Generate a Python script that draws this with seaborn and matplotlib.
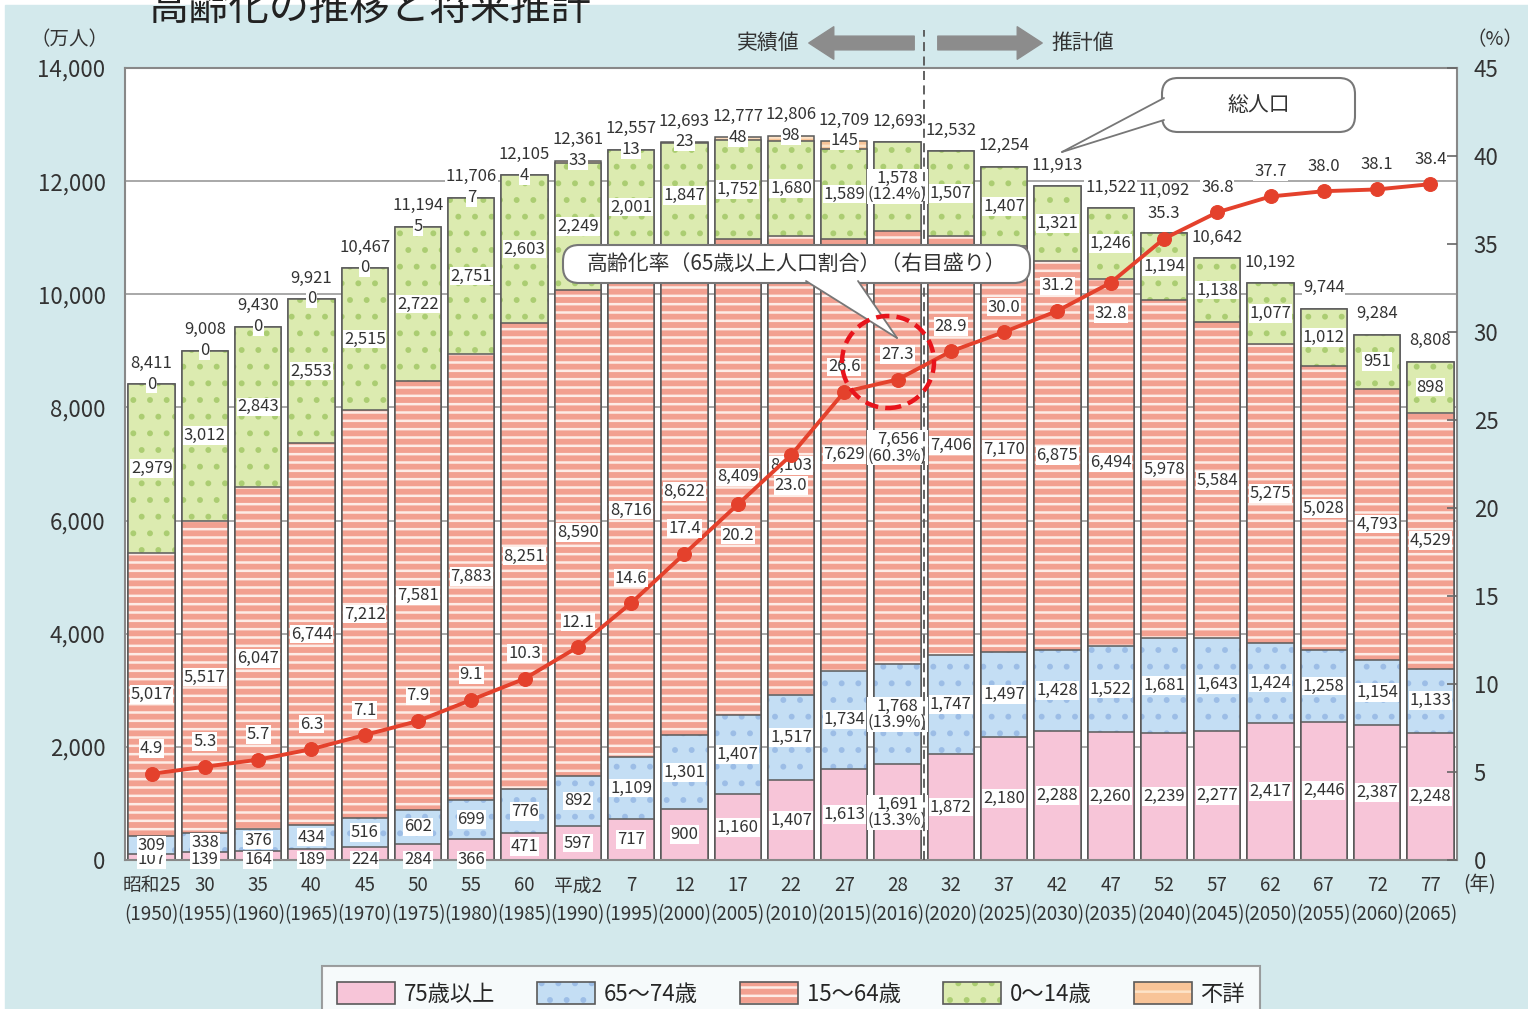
import numpy as np
import pandas as pd
import matplotlib.pyplot as plt
import matplotlib.patches as mpatches
import matplotlib.transforms as mtransforms
import seaborn as sns

# Data (万人, %)
era_labels = ['昭和25', '30', '35', '40', '45', '50', '55', '60', '平成2', '7', '12', '17', '22',
              '27', '28', '32', '37', '42', '47', '52', '57', '62', '67', '72', '77']
years = [1950, 1955, 1960, 1965, 1970, 1975, 1980, 1985, 1990, 1995, 2000, 2005, 2010,
         2015, 2016, 2020, 2025, 2030, 2035, 2040, 2045, 2050, 2055, 2060, 2065]
age_75_over = [107, 139, 164, 189, 224, 284, 366, 471, 597, 717, 900, 1160, 1407,
               1613, 1691, 1872, 2180, 2288, 2260, 2239, 2277, 2417, 2446, 2387, 2248]
age_65_74 = [309, 338, 376, 434, 516, 602, 699, 776, 892, 1109, 1301, 1407, 1517,
             1734, 1768, 1747, 1497, 1428, 1522, 1681, 1643, 1424, 1258, 1154, 1133]
age_15_64 = [5017, 5517, 6047, 6744, 7212, 7581, 7883, 8251, 8590, 8716, 8622, 8409, 8103,
             7629, 7656, 7406, 7170, 6875, 6494, 5978, 5584, 5275, 5028, 4793, 4529]
age_0_14 = [2979, 3012, 2843, 2553, 2515, 2722, 2751, 2603, 2249, 2001, 1847, 1752, 1680,
            1589, 1578, 1507, 1407, 1321, 1246, 1194, 1138, 1077, 1012, 951, 898]
unknown = [0, 0, 0, 0, 0, 5, 7, 4, 33, 13, 23, 48, 98, 145]
total = [8411, 9008, 9430, 9921, 10467, 11194, 11706, 12105, 12361, 12557, 12693, 12777, 12806,
         12709, 12693, 12532, 12254, 11913, 11522, 11092, 10642, 10192, 9744, 9284, 8808]
aging_rate = [4.9, 5.3, 5.7, 6.3, 7.1, 7.9, 9.1, 10.3, 12.1, 14.6, 17.4, 20.2, 23.0,
              26.6, 27.3, 28.9, 30.0, 31.2, 32.8, 35.3, 36.8, 37.7, 38.0, 38.1, 38.4]
# shares for 2016 (75+, 65-74, 15-64, 0-14)
share_2016 = [13.3, 13.9, 60.3, 12.4]
idx_2016 = 14

# label placement tweaks
rate_below = [11, 12, 18]      # rate labels drawn under the point
total_raised = [19]            # total labels lifted higher

n = len(years)
unk_full = unknown + [0] * (n - len(unknown))
df = pd.DataFrame({'pos': np.arange(n), 'a75': age_75_over, 'a65': age_65_74,
                   'a15': age_15_64, 'a0': age_0_14, 'unk': unk_full})
df['c1'] = df['a75']
df['c2'] = df['c1'] + df['a65']
df['c3'] = df['c2'] + df['a15']
df['c4'] = df['c3'] + df['a0']
df['c5'] = df['c4'] + df['unk']

sns.set_theme(style='white')
plt.rcParams['font.family'] = ['Noto Sans CJK JP', 'DejaVu Sans']
plt.rcParams['hatch.linewidth'] = 1.8

bg = '#d3e9ec'
edge = '#5a5a5a'
fig = plt.figure(figsize=(15.28, 10.09), dpi=100)
fig.patch.set_facecolor('white')
fig.add_artist(mpatches.Rectangle((5 / 1528, 0), 1, 1 - 5 / 1009, transform=fig.transFigure,
                                  color=bg, zorder=-10))

ax = fig.add_axes([125 / 1528, 149 / 1009, 1332 / 1528, 792 / 1009])
ax.set_facecolor('white')

layers = [
    ('c5', '#f8c498', '--', '#fde3c8'),
    ('c4', '#dcebb0', '.', '#abcd72'),
    ('c3', '#f2a090', '--', '#fdece6'),
    ('c2', '#c4def4', '.', '#9cbde6'),
    ('c1', '#f7c5d8', None, '#f7c5d8'),
]
for col, face, hatch, hcol in layers:
    sns.barplot(data=df, x='pos', y=col, color=face, saturation=1, errorbar=None, width=0.87,
                hatch=hatch, edgecolor=hcol, linewidth=0, ax=ax)
    sns.barplot(data=df, x='pos', y=col, color=edge, saturation=1, errorbar=None, width=0.87,
                fill=False, linewidth=1.1, ax=ax)

ax.set_xlim(-0.5, n - 0.5)
ax.set_ylim(0, 14000)
ax.set_yticks(range(0, 14001, 2000))
ax.set_yticklabels([f'{v:,}' for v in range(0, 14001, 2000)], fontsize=16, color='#333')
ax.yaxis.grid(True, color='#999999', lw=1.2)
ax.set_axisbelow(True)
ax.set_xticks(range(n))
ax.set_xticklabels([f'{e}\n({y})' for e, y in zip(era_labels, years)], fontsize=13.5,
                   color='#333', linespacing=1.5)
ax.tick_params(axis='x', length=0, pad=11)
ax.tick_params(axis='y', length=0, pad=14)
ax.set_xlabel('')
ax.set_ylabel('')
for s in ax.spines.values():
    s.set_color('#888888')
    s.set_linewidth(1.5)

box = dict(boxstyle='square,pad=0.05', fc='white', ec='none')
lab_kw = dict(ha='center', va='center', fontsize=12, color='#333', bbox=box, zorder=5)

for i in range(n):
    y75 = df['c1'][i] / 2 if df['c1'][i] > 400 else 0
    segs = [(df['a75'][i], y75),
            (df['a65'][i], (df['c1'][i] + df['c2'][i]) / 2),
            (df['a15'][i], (df['c2'][i] + df['c3'][i]) / 2),
            (df['a0'][i], (df['c3'][i] + df['c4'][i]) / 2)]
    for k, (v, y) in enumerate(segs):
        txt = f'{v:,}'
        if i == idx_2016:
            txt += f'\n({share_2016[k]}%)'
        ax.annotate(txt, (i, y), linespacing=0.95, annotation_clip=False, **lab_kw)
    if i < len(unknown):
        ax.annotate(f'{unknown[i]:,}', (i, df['c5'][i]), **lab_kw)
    off = 30 if i in total_raised else 15
    ax.annotate(f'{total[i]:,}', (i, df['c5'][i]), xytext=(0, off), textcoords='offset points',
                **lab_kw)

# aging rate line
ax2 = ax.twinx()
sns.lineplot(x=np.arange(n), y=aging_rate, ax=ax2, color='#e4412c', lw=2.8, marker='o',
             markersize=10, markeredgecolor='#e4412c')
ax2.set_ylim(0, 45)
ax2.set_yticks(range(0, 46, 5))
ax2.set_yticklabels([str(v) for v in range(0, 46, 5)], fontsize=16, color='#333')
ax2.tick_params(axis='y', direction='in', length=7, width=1.2, color='#666', pad=12)
ax2.grid(False)
for s in ax2.spines.values():
    s.set_visible(False)
ax.set_xlim(-0.5, n - 0.5)
for i, r in enumerate(aging_rate):
    dy = -22 if i in rate_below else 18
    ax2.annotate(f'{r:.1f}', (i, r), xytext=(0, dy), textcoords='offset points', **lab_kw)

# actual / projected divider
blend = mtransforms.blended_transform_factory(ax.transData, ax.transAxes)
ax.plot([idx_2016 + 0.5] * 2, [0, 1.048], transform=blend, color='#555', lw=1.3,
        ls=(0, (5, 3)), clip_on=False, zorder=6)

H = 1009
def fp(x, y):
    return (x / 1528, 1 - y / H)

arrow = dict(arrowstyle='simple,head_width=1.3,head_length=1.0,tail_width=0.55',
             color='#8c8c8c', mutation_scale=18)
fig.add_artist(mpatches.FancyArrowPatch(fp(917, 43), fp(806, 43), transform=fig.transFigure,
                                        **arrow))
fig.add_artist(mpatches.FancyArrowPatch(fp(935, 43), fp(1045, 43), transform=fig.transFigure,
                                        **arrow))
fig.text(*fp(768, 43), '実績値', ha='center', va='center', fontsize=15, color='#333')
fig.text(*fp(1083, 43), '推計値', ha='center', va='center', fontsize=15, color='#333')

fig.text(*fp(148, 8), '高齢化の推移と将来推計', ha='left', va='center', fontsize=29, color='#222')
fig.text(*fp(70, 40), '（万人）', ha='center', va='center', fontsize=14, color='#333')
fig.text(*fp(1495, 40), '（%）', ha='center', va='center', fontsize=14, color='#333')
fig.text(*fp(1480, 885), '(年)', ha='center', va='center', fontsize=14, color='#333')

# callouts (pixel coordinates via inches)
inch = fig.dpi_scale_trans
def ip(x, y):
    return (x / 100, (H - y) / 100)

def callout(x0, y0, x1, y1, base1, base2, tip, text, fs):
    fig.add_artist(mpatches.FancyBboxPatch(ip(x0, y1), (x1 - x0) / 100, (y1 - y0) / 100,
                                           boxstyle='round,pad=0,rounding_size=0.16',
                                           transform=inch, fc='white', ec='#777', lw=1.5,
                                           zorder=8))
    fig.add_artist(mpatches.Polygon([ip(*base1), ip(*tip), ip(*base2)], closed=True,
                                    transform=inch, fc='white', ec='none', zorder=9))
    for b in (base1, base2):
        fig.add_artist(plt.Line2D([ip(*b)[0], ip(*tip)[0]], [ip(*b)[1], ip(*tip)[1]],
                                  transform=inch, color='#777', lw=1.3, zorder=9))
    fig.text(*fp((x0 + x1) / 2, (y0 + y1) / 2), text, ha='center', va='center', fontsize=fs,
             color='#333', zorder=10)

callout(1162, 78, 1355, 132, (1164, 98), (1164, 120), (1062, 152), '総人口', 15)
callout(563, 245, 1030, 283, (806, 281), (858, 281), (897, 338),
        '高齢化率（65歳以上人口割合）（右目盛り）', 15)

fig.add_artist(mpatches.Circle(ip(888, 362), 0.46, transform=inch, fill=False, ec='#e8141c',
                               lw=3.2, ls=(0, (3, 1.6)), zorder=11))

# legend
handles = []
for face, hatch, hcol in [('#f7c5d8', None, '#f7c5d8'), ('#c4def4', '.', '#9cbde6'),
                          ('#f2a090', '--', '#fdece6'), ('#dcebb0', '.', '#abcd72'),
                          ('#f8c498', '-', '#fde3c8')]:
    handles.append((mpatches.Patch(fc=face, hatch=hatch, ec=hcol, lw=0),
                    mpatches.Patch(fc='none', ec=edge, lw=1.2)))
labels = ['75歳以上', '65～74歳', '15～64歳', '0～14歳', '不詳']
leg = fig.legend(handles, labels, loc='upper center', bbox_to_anchor=fp(791, 955), ncol=5,
                 fontsize=16, frameon=True, fancybox=False, edgecolor='#888', handlelength=2.6,
                 handleheight=1.2, columnspacing=1.9, handletextpad=0.4, borderpad=0.7)
leg.get_frame().set_linewidth(1.5)
leg.get_frame().set_facecolor('white')

fig.savefig('out.png', dpi=100, facecolor=fig.get_facecolor())
